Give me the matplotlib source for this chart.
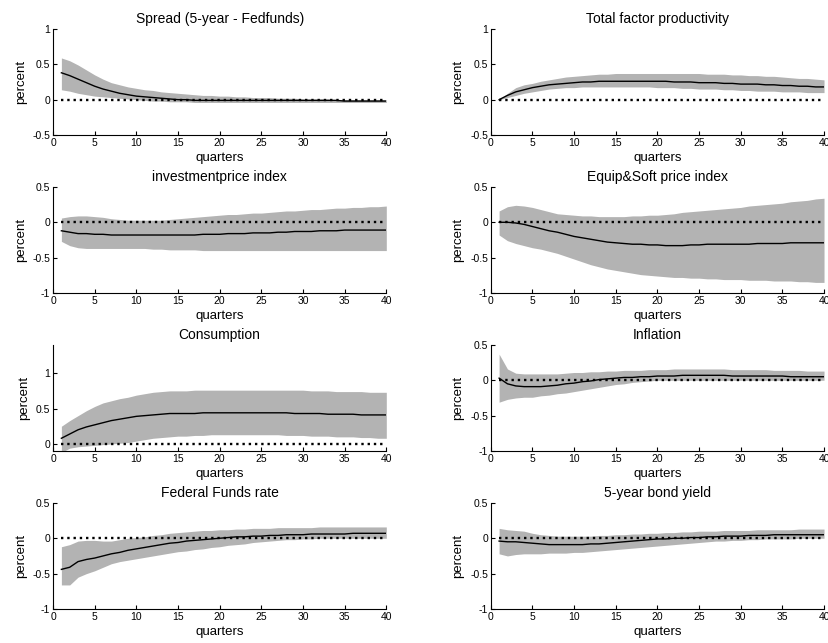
import numpy as np
import matplotlib.pyplot as plt
from matplotlib.ticker import FuncFormatter

plt.rcParams['font.family'] = ['Liberation Sans', 'DejaVu Sans']
plt.rcParams['axes.unicode_minus'] = False

quarters = np.arange(1, 41)

titles = ['Spread (5-year - Fedfunds)', 'Total factor productivity',
          'investmentprice index', 'Equip&Soft price index',
          'Consumption', 'Inflation',
          'Federal Funds rate', '5-year bond yield']

spread_med = [0.38, 0.34, 0.29, 0.24, 0.19, 0.15, 0.12, 0.09, 0.07, 0.05,
              0.04, 0.03, 0.02, 0.01, 0.00, 0.00, -0.01, -0.01, -0.01, -0.01,
              -0.01, -0.01, -0.01, -0.01, -0.01, -0.01, -0.01, -0.01, -0.01, -0.01,
              -0.01, -0.01, -0.01, -0.01, -0.02, -0.02, -0.02, -0.02, -0.02, -0.02]
spread_hi = [0.59, 0.55, 0.49, 0.42, 0.35, 0.29, 0.24, 0.21, 0.18, 0.16,
             0.14, 0.13, 0.11, 0.10, 0.09, 0.08, 0.07, 0.06, 0.06, 0.05,
             0.05, 0.04, 0.04, 0.03, 0.03, 0.03, 0.02, 0.02, 0.02, 0.01,
             0.01, 0.01, 0.01, 0.00, 0.00, 0.00, 0.00, 0.00, 0.00, 0.00]
spread_lo = [0.14, 0.12, 0.09, 0.07, 0.05, 0.04, 0.03, 0.02, 0.01, 0.00,
             -0.01, -0.02, -0.02, -0.03, -0.03, -0.03, -0.04, -0.04, -0.04, -0.04,
             -0.04, -0.04, -0.04, -0.04, -0.04, -0.04, -0.04, -0.04, -0.04, -0.04,
             -0.04, -0.04, -0.04, -0.04, -0.04, -0.04, -0.04, -0.04, -0.04, -0.04]

tfp_med = [0.00, 0.06, 0.11, 0.14, 0.17, 0.19, 0.21, 0.22, 0.23, 0.24,
           0.25, 0.25, 0.26, 0.26, 0.26, 0.26, 0.26, 0.26, 0.26, 0.26,
           0.26, 0.25, 0.25, 0.25, 0.24, 0.24, 0.24, 0.23, 0.23, 0.22,
           0.22, 0.22, 0.21, 0.21, 0.20, 0.20, 0.19, 0.19, 0.18, 0.18]
tfp_hi = [0.00, 0.09, 0.17, 0.21, 0.23, 0.26, 0.28, 0.30, 0.32, 0.33,
          0.34, 0.35, 0.36, 0.36, 0.37, 0.37, 0.37, 0.37, 0.37, 0.37,
          0.37, 0.37, 0.37, 0.37, 0.37, 0.36, 0.36, 0.36, 0.35, 0.35,
          0.34, 0.34, 0.33, 0.33, 0.32, 0.31, 0.30, 0.30, 0.29, 0.28]
tfp_lo = [0.00, 0.03, 0.06, 0.09, 0.11, 0.13, 0.15, 0.16, 0.17, 0.17,
          0.18, 0.18, 0.18, 0.18, 0.18, 0.18, 0.18, 0.18, 0.18, 0.17,
          0.17, 0.17, 0.16, 0.16, 0.15, 0.15, 0.15, 0.14, 0.14, 0.13,
          0.13, 0.12, 0.12, 0.12, 0.11, 0.11, 0.11, 0.10, 0.10, 0.10]

inv_med = [-0.12, -0.14, -0.16, -0.16, -0.17, -0.17, -0.18, -0.18, -0.18, -0.18,
           -0.18, -0.18, -0.18, -0.18, -0.18, -0.18, -0.18, -0.17, -0.17, -0.17,
           -0.16, -0.16, -0.16, -0.15, -0.15, -0.15, -0.14, -0.14, -0.13, -0.13,
           -0.13, -0.12, -0.12, -0.12, -0.11, -0.11, -0.11, -0.11, -0.11, -0.11]
inv_hi = [0.06, 0.08, 0.09, 0.09, 0.08, 0.07, 0.05, 0.04, 0.03, 0.03,
          0.03, 0.03, 0.03, 0.04, 0.05, 0.06, 0.07, 0.08, 0.09, 0.10,
          0.11, 0.11, 0.12, 0.13, 0.13, 0.14, 0.15, 0.16, 0.16, 0.17,
          0.18, 0.18, 0.19, 0.20, 0.20, 0.21, 0.21, 0.22, 0.22, 0.23]
inv_lo = [-0.27, -0.33, -0.36, -0.37, -0.37, -0.37, -0.37, -0.37, -0.37, -0.37,
          -0.37, -0.38, -0.38, -0.39, -0.39, -0.39, -0.39, -0.40, -0.40, -0.40,
          -0.40, -0.40, -0.40, -0.40, -0.40, -0.40, -0.40, -0.40, -0.40, -0.40,
          -0.40, -0.40, -0.40, -0.40, -0.40, -0.40, -0.40, -0.40, -0.40, -0.40]

equip_med = [0.00, 0.00, -0.01, -0.03, -0.06, -0.09, -0.12, -0.14, -0.17, -0.20,
             -0.22, -0.24, -0.26, -0.28, -0.29, -0.30, -0.31, -0.31, -0.32, -0.32,
             -0.33, -0.33, -0.33, -0.32, -0.32, -0.31, -0.31, -0.31, -0.31, -0.31,
             -0.31, -0.30, -0.30, -0.30, -0.30, -0.29, -0.29, -0.29, -0.29, -0.29]
equip_hi = [0.16, 0.22, 0.24, 0.23, 0.21, 0.18, 0.15, 0.12, 0.11, 0.10,
            0.09, 0.09, 0.08, 0.08, 0.08, 0.08, 0.09, 0.09, 0.10, 0.10,
            0.11, 0.12, 0.14, 0.15, 0.16, 0.17, 0.18, 0.19, 0.20, 0.21,
            0.23, 0.24, 0.25, 0.26, 0.27, 0.29, 0.30, 0.31, 0.33, 0.34]
equip_lo = [-0.18, -0.26, -0.30, -0.33, -0.36, -0.38, -0.41, -0.44, -0.48, -0.52,
            -0.56, -0.60, -0.63, -0.66, -0.68, -0.70, -0.72, -0.74, -0.75, -0.76,
            -0.77, -0.78, -0.78, -0.79, -0.79, -0.80, -0.80, -0.81, -0.81, -0.81,
            -0.82, -0.82, -0.82, -0.83, -0.83, -0.83, -0.84, -0.84, -0.85, -0.85]

cons_med = [0.08, 0.14, 0.20, 0.24, 0.27, 0.30, 0.33, 0.35, 0.37, 0.39,
            0.40, 0.41, 0.42, 0.43, 0.43, 0.43, 0.43, 0.44, 0.44, 0.44,
            0.44, 0.44, 0.44, 0.44, 0.44, 0.44, 0.44, 0.44, 0.43, 0.43,
            0.43, 0.43, 0.42, 0.42, 0.42, 0.42, 0.41, 0.41, 0.41, 0.41]
cons_hi = [0.25, 0.33, 0.40, 0.47, 0.53, 0.58, 0.61, 0.64, 0.66, 0.69,
           0.71, 0.73, 0.74, 0.75, 0.75, 0.75, 0.76, 0.76, 0.76, 0.76,
           0.76, 0.76, 0.76, 0.76, 0.76, 0.76, 0.76, 0.76, 0.76, 0.76,
           0.75, 0.75, 0.75, 0.74, 0.74, 0.74, 0.74, 0.73, 0.73, 0.73]
cons_lo = [-0.12, -0.06, -0.04, -0.03, -0.02, -0.01, 0.00, 0.01, 0.02, 0.04,
           0.06, 0.08, 0.09, 0.10, 0.11, 0.11, 0.12, 0.12, 0.13, 0.13,
           0.13, 0.13, 0.13, 0.13, 0.13, 0.13, 0.13, 0.12, 0.12, 0.12,
           0.11, 0.11, 0.11, 0.10, 0.10, 0.10, 0.09, 0.09, 0.08, 0.08]

infl_med = [0.03, -0.05, -0.08, -0.09, -0.09, -0.09, -0.08, -0.07, -0.05, -0.04,
            -0.02, -0.01, 0.01, 0.02, 0.03, 0.04, 0.04, 0.05, 0.05, 0.06,
            0.06, 0.06, 0.07, 0.07, 0.07, 0.07, 0.07, 0.07, 0.06, 0.06,
            0.06, 0.06, 0.06, 0.06, 0.06, 0.05, 0.05, 0.05, 0.05, 0.05]
infl_hi = [0.37, 0.16, 0.10, 0.09, 0.09, 0.09, 0.09, 0.09, 0.10, 0.11,
           0.11, 0.12, 0.12, 0.13, 0.13, 0.14, 0.14, 0.14, 0.15, 0.15,
           0.15, 0.16, 0.16, 0.16, 0.16, 0.16, 0.16, 0.16, 0.15, 0.15,
           0.15, 0.15, 0.15, 0.14, 0.14, 0.14, 0.14, 0.13, 0.13, 0.13]
infl_lo = [-0.31, -0.27, -0.25, -0.24, -0.24, -0.22, -0.21, -0.19, -0.18, -0.16,
           -0.14, -0.12, -0.10, -0.08, -0.06, -0.05, -0.03, -0.02, -0.01, 0.00,
           0.00, 0.00, 0.00, 0.00, 0.00, 0.00, 0.00, 0.00, 0.00, 0.00,
           0.00, 0.00, 0.00, 0.00, 0.00, 0.00, 0.00, 0.00, 0.00, 0.00]

ff_med = [-0.44, -0.41, -0.33, -0.30, -0.28, -0.25, -0.22, -0.20, -0.17, -0.15,
          -0.13, -0.11, -0.09, -0.07, -0.06, -0.04, -0.03, -0.02, -0.01, 0.00,
          0.01, 0.02, 0.02, 0.03, 0.03, 0.04, 0.04, 0.05, 0.05, 0.05,
          0.06, 0.06, 0.06, 0.06, 0.06, 0.07, 0.07, 0.07, 0.07, 0.07]
ff_hi = [-0.12, -0.09, -0.04, -0.03, -0.03, -0.04, -0.04, -0.02, 0.00, 0.01,
         0.02, 0.04, 0.05, 0.07, 0.08, 0.09, 0.10, 0.11, 0.11, 0.12,
         0.12, 0.13, 0.13, 0.14, 0.14, 0.14, 0.15, 0.15, 0.15, 0.15,
         0.15, 0.16, 0.16, 0.16, 0.16, 0.16, 0.16, 0.16, 0.16, 0.16]
ff_lo = [-0.66, -0.66, -0.55, -0.50, -0.46, -0.41, -0.36, -0.33, -0.31, -0.29,
         -0.27, -0.25, -0.23, -0.21, -0.19, -0.18, -0.16, -0.15, -0.13, -0.12,
         -0.10, -0.09, -0.08, -0.06, -0.05, -0.04, -0.03, -0.02, -0.02, -0.01,
         -0.01, 0.00, 0.00, 0.00, 0.00, 0.00, 0.00, 0.00, 0.00, 0.00]

bond_med = [-0.04, -0.05, -0.05, -0.06, -0.07, -0.08, -0.09, -0.09, -0.09, -0.09,
            -0.09, -0.08, -0.08, -0.07, -0.06, -0.05, -0.04, -0.03, -0.02, -0.01,
            -0.01, 0.00, 0.00, 0.01, 0.01, 0.02, 0.02, 0.03, 0.03, 0.03,
            0.04, 0.04, 0.04, 0.05, 0.05, 0.05, 0.05, 0.05, 0.05, 0.05]
bond_hi = [0.14, 0.12, 0.11, 0.10, 0.07, 0.05, 0.04, 0.03, 0.03, 0.03,
           0.03, 0.03, 0.04, 0.04, 0.05, 0.05, 0.06, 0.06, 0.07, 0.07,
           0.08, 0.08, 0.09, 0.09, 0.10, 0.10, 0.10, 0.11, 0.11, 0.11,
           0.11, 0.12, 0.12, 0.12, 0.12, 0.12, 0.13, 0.13, 0.13, 0.13]
bond_lo = [-0.22, -0.25, -0.23, -0.22, -0.22, -0.22, -0.21, -0.21, -0.21, -0.20,
           -0.20, -0.19, -0.18, -0.17, -0.16, -0.15, -0.14, -0.13, -0.12, -0.11,
           -0.10, -0.09, -0.08, -0.07, -0.06, -0.05, -0.04, -0.04, -0.03, -0.03,
           -0.02, -0.02, -0.01, -0.01, -0.01, -0.01, 0.00, 0.00, 0.00, 0.00]

medians = [spread_med, tfp_med, inv_med, equip_med, cons_med, infl_med, ff_med, bond_med]
uppers = [spread_hi, tfp_hi, inv_hi, equip_hi, cons_hi, infl_hi, ff_hi, bond_hi]
lowers = [spread_lo, tfp_lo, inv_lo, equip_lo, cons_lo, infl_lo, ff_lo, bond_lo]
ylims = [(-0.5, 1), (-0.5, 1), (-1, 0.5), (-1, 0.5), (-0.1, 1.4), (-1, 0.5), (-1, 0.5), (-1, 0.5)]
yticks = [[-0.5, 0, 0.5, 1], [-0.5, 0, 0.5, 1], [-1, -0.5, 0, 0.5], [-1, -0.5, 0, 0.5],
          [0, 0.5, 1], [-1, -0.5, 0, 0.5], [-1, -0.5, 0, 0.5], [-1, -0.5, 0, 0.5]]

fig = plt.figure(figsize=(8.29, 6.43), dpi=100)
lefts = [0.064, 0.592]
bottoms = [0.790, 0.5443, 0.2986, 0.0529]
fmt = FuncFormatter(lambda v, p: '%g' % v)

for i in range(8):
    ax = fig.add_axes([lefts[i % 2], bottoms[i // 2], 0.402, 0.165])
    ax.fill_between(quarters, lowers[i], uppers[i], color='#b3b3b3', linewidth=0)
    ax.plot(quarters, medians[i], color='black', linewidth=1)
    ax.plot(quarters, np.zeros(len(quarters)), color='black', linestyle=':', linewidth=1.7)
    ax.set_xlim(0, 40)
    ax.set_ylim(*ylims[i])
    ax.set_xticks(range(0, 41, 5))
    ax.set_yticks(yticks[i])
    ax.yaxis.set_major_formatter(fmt)
    ax.spines['top'].set_visible(False)
    ax.spines['right'].set_visible(False)
    ax.spines['left'].set_linewidth(0.8)
    ax.spines['bottom'].set_linewidth(0.8)
    ax.tick_params(direction='in', length=3, width=0.8, labelsize=7.5, pad=2)
    ax.set_title(titles[i], fontsize=10, pad=4)
    ax.set_xlabel('quarters', fontsize=9.5, labelpad=3)
    ax.set_ylabel('percent', fontsize=9.5, labelpad=4)

plt.savefig('out.png', dpi=100)
